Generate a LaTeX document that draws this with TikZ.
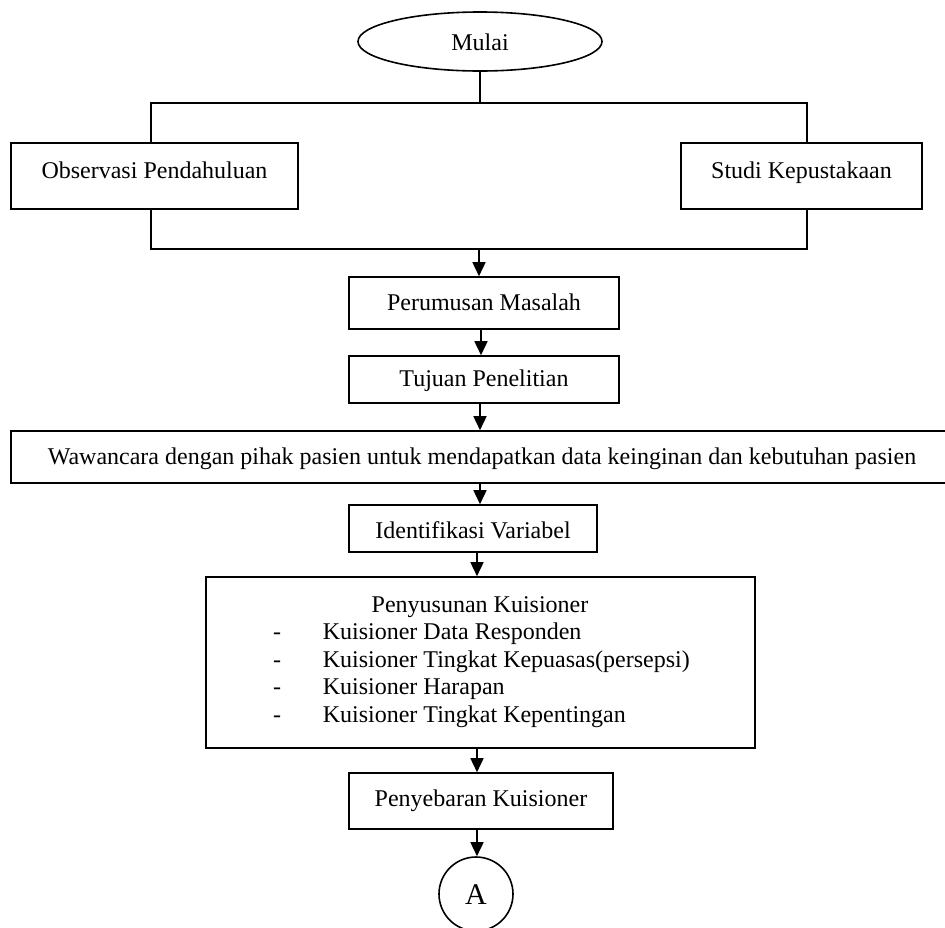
\documentclass[tikz,border=0pt]{standalone}
\usepackage{fontspec}
\setmainfont{Liberation Serif}
\usetikzlibrary{arrows.meta,shapes.geometric}
\begin{document}
\begin{tikzpicture}[x=1pt,y=-1pt,
  line width=1.6pt,
  txt/.style={font=\fontsize{24}{27.6}\selectfont, inner sep=0pt},
  box/.style={txt, draw, line width=1.6pt, align=center, text height=18pt, text depth=4pt},
  topbox/.style={box, text height=13pt, text depth=9pt},
  arr/.style={-{Triangle[width=13pt,length=14pt]}, line width=1.6pt}]
\useasboundingbox (0,0) rectangle (945,927);

% nodes
\node[txt, draw, ellipse, line width=1.6pt, minimum width=244pt, minimum height=59pt, text height=17pt, text depth=0pt] (mulai) at (480,41.5) {Mulai};
\node[topbox, minimum width=287pt, minimum height=66pt] (obs) at (154.5,176) {Observasi Pendahuluan};
\node[topbox, minimum width=241pt, minimum height=66pt] (studi) at (801.5,176) {Studi Kepustakaan};
\node[box, minimum width=270pt, minimum height=52pt] (perum) at (484,303) {Perumusan Masalah};
\node[box, minimum width=270pt, minimum height=47pt] (tujuan) at (484,379.5) {Tujuan Penelitian};
\node[box, minimum width=942pt, minimum height=52pt] (wawan) at (482,457) {Wawancara dengan pihak pasien untuk mendapatkan data keinginan dan kebutuhan pasien};
\node[box, minimum width=248pt, minimum height=47pt, text height=20.5pt, text depth=1.5pt] (ident) at (473,528.5) {Identifikasi Variabel};
\node[draw, line width=1.6pt, minimum width=549pt, minimum height=171pt, inner sep=0pt] (penyus) at (480.5,662.5) {};
\node[box, minimum width=264pt, minimum height=56pt, text height=16pt, text depth=6pt] (sebar) at (481,801) {Penyebaran Kuisioner};
\node[draw, circle, line width=1.6pt, minimum size=74pt, inner sep=0pt, font=\fontsize{30}{34}\selectfont, text height=20pt, text depth=0pt] (a) at (476,894) {A};

% Penyusunan contents
\node[txt, anchor=base] (p0) at (480,612) {Penyusunan Kuisioner};
\node[txt, anchor=base] (d1) at (277,639.5) {-};
\node[txt, anchor=base west] (p1) at (322,639.5) {Kuisioner Data Responden};
\node[txt, anchor=base] (d2) at (277,667) {-};
\node[txt, anchor=base west] (p2) at (322,667) {Kuisioner Tingkat Kepuasas(persepsi)};
\node[txt, anchor=base] (d3) at (277,694.5) {-};
\node[txt, anchor=base west] (p3) at (322,694.5) {Kuisioner Harapan};
\node[txt, anchor=base] (d4) at (277,722) {-};
\node[txt, anchor=base west] (p4) at (322,722) {Kuisioner Tingkat Kepentingan};

% helper coordinates
\coordinate (tl) at (151,103);
\coordinate (tr) at (807,103);
\coordinate (bl) at (151,249);
\coordinate (br) at (807,249);
\coordinate (bm) at (479,249);
\coordinate (x481) at (481,0);
\coordinate (x480) at (480,0);
\coordinate (x477) at (477,0);

% connectors
\draw (mulai.south) -- (mulai.south |- tl);
\draw (tl |- obs.north) -- (tl) -- (tr) -- (tr |- studi.north);
\draw (bl |- obs.south) -- (bl) -- (br) -- (br |- studi.south);
\draw[arr] (bm) -- (bm |- perum.north);
\draw[arr] (x481 |- perum.south) -- (x481 |- tujuan.north);
\draw[arr] (x480 |- tujuan.south) -- (x480 |- wawan.north);
\draw[arr] (x480 |- wawan.south) -- (x480 |- ident.north);
\draw[arr] (x477 |- ident.south) -- (x477 |- penyus.north);
\draw[arr] (x477 |- penyus.south) -- (x477 |- sebar.north);
\draw[arr] (x477 |- sebar.south) -- (x477 |- a.north);
\end{tikzpicture}
\end{document}
